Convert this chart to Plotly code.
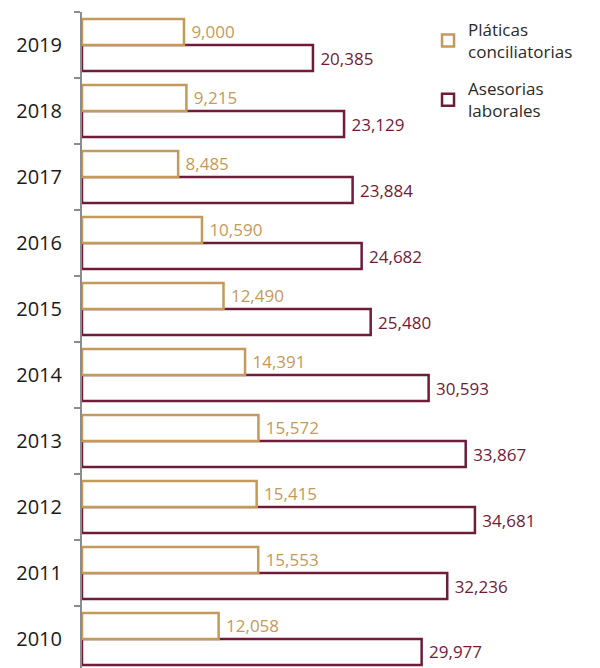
import plotly.graph_objects as go

years = ["2010", "2011", "2012", "2013", "2014", "2015", "2016", "2017", "2018", "2019"]
platicas = [12058, 15553, 15415, 15572, 14391, 12490, 10590, 8485, 9215, 9000]
asesorias = [29977, 32236, 34681, 33867, 30593, 25480, 24682, 23884, 23129, 20385]

gold = "#C39A5A"
maroon = "#6E1C3A"
font_family = "Open Sans, Lato, sans-serif"

fig = go.Figure()
fig.add_trace(go.Bar(
    y=years, x=asesorias, orientation="h", name="Asesorias<br>laborales",
    marker=dict(color="white", line=dict(color=maroon, width=2.5)),
    text=asesorias, texttemplate="\u00a0%{x:,}", textposition="outside",
    textfont=dict(color=maroon, size=17, family=font_family),
    cliponaxis=False, legendrank=2, legendgroup="b",
))
fig.add_trace(go.Bar(
    y=years, x=platicas, orientation="h", name="Pláticas<br>conciliatorias",
    marker=dict(color="white", line=dict(color=gold, width=2.5)),
    text=platicas, texttemplate="\u00a0%{x:,}", textposition="outside",
    textfont=dict(color=gold, size=17, family=font_family),
    cliponaxis=False, legendrank=1, legendgroup="a",
))

fig.update_layout(
    width=592, height=660,
    margin=dict(l=74, r=0, t=4, b=0, autoexpand=False),
    barmode="group", bargap=0.21, bargroupgap=0,
    plot_bgcolor="white", paper_bgcolor="white",
    font=dict(family=font_family, color="#222222"),
    legend=dict(
        x=0.668, y=1.0, xanchor="left", yanchor="top",
        font=dict(size=17, color="#2a2a2a"),
        itemwidth=30, tracegroupgap=12, bgcolor="rgba(0,0,0,0)",
    ),
    xaxis=dict(range=[0, 45720], visible=False, showgrid=False, zeroline=False),
    yaxis=dict(
        type="category", categoryorder="array", categoryarray=years,
        range=[-0.44, 9.5], automargin=False,
        showline=True, linecolor="#8c8c8c", linewidth=2,
        ticks="outside", tickson="boundaries", ticklen=6, tickcolor="#8c8c8c", tickwidth=2,
        tickfont=dict(size=20, color="#1a1a1a"), ticklabelstandoff=14,
        showgrid=False, zeroline=False,
    ),
)
fig.update_traces(constraintext="none")

fig.write_html("out.html")
